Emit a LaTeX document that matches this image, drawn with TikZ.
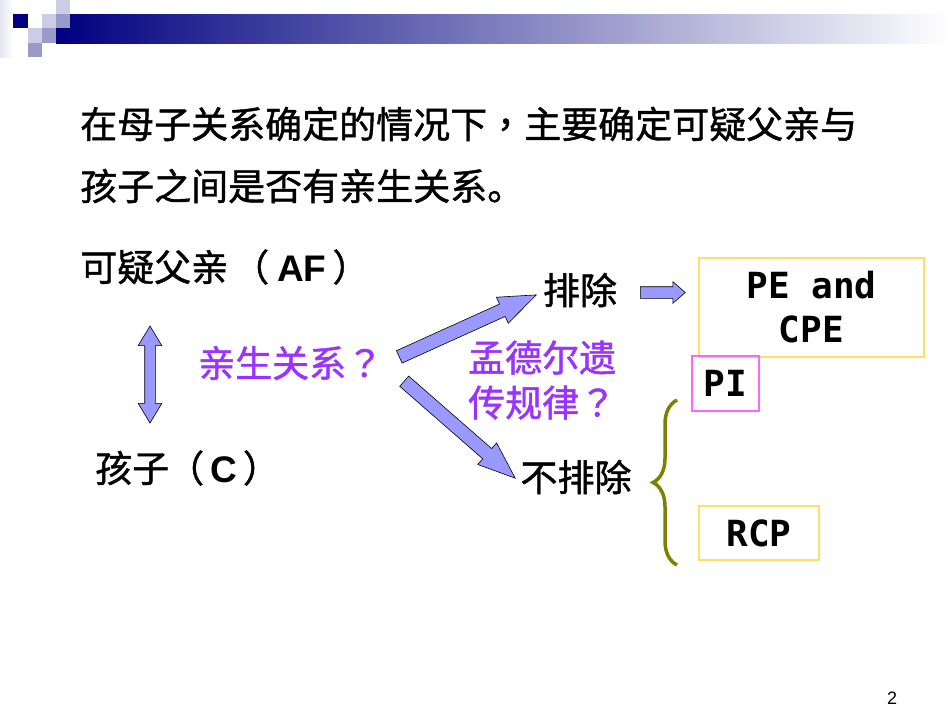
\documentclass[tikz,border=0pt]{standalone}
\usepackage{fontspec}
\setmainfont{Liberation Sans}
\newfontfamily\cjk[FakeBold=1.2]{Noto Sans CJK SC}
\newfontfamily\cjkp[FakeBold=1.2]{Noto Sans CJK TC}
\newfontfamily\mono{DejaVu Sans Mono}
\usetikzlibrary{positioning, calc, shapes.arrows, decorations.pathreplacing}

\definecolor{navy}{HTML}{000080}
\definecolor{lavlight}{HTML}{CCCCE6}
\definecolor{lavmid}{HTML}{9999CC}
\definecolor{arrowblue}{HTML}{9999FF}
\definecolor{kinpurple}{HTML}{9933FF}
\definecolor{boxyellow}{HTML}{FFE066}
\definecolor{pipink}{HTML}{FF66FF}
\definecolor{braceolive}{HTML}{808000}

% 粗箭头: 从 #2 指向 #3
\newcommand{\fatarrow}[3][]{%
  \path let \p1=($(#3)-(#2)$), \n1={atan2(\y1,\x1)}, \n2={veclen(\x1,\y1)} in
    node[blockarrow, #1, rotate=\n1, minimum height=\n2, anchor=tail] at (#2) {};%
}

\begin{document}
\begin{tikzpicture}[
                x=1pt, y=-1pt,
                txt/.style={font=\cjk\fontsize{37}{45}\selectfont, inner sep=0pt},
                ask/.style={txt, text=kinpurple},
                res/.style={draw=boxyellow, line width=1.2pt, inner sep=0pt, font=\mono\bfseries\fontsize{36}{44}\selectfont, align=center},
                blockarrow/.style={single arrow, draw=black, line width=0.6pt, fill=arrowblue, inner xsep=0pt, inner ysep=6.5pt, single arrow head extend=7.5pt, single arrow tip angle=42},
                smallarrow/.style={inner ysep=5.5pt, single arrow head extend=5pt, single arrow tip angle=82},
                updown/.style={double arrow, draw=black, line width=0.6pt, fill=arrowblue, inner xsep=0pt, inner ysep=5pt, double arrow head extend=6.5pt, double arrow tip angle=62, rotate=90}
            ]
                \useasboundingbox (0,0) rectangle (950,713);

                % 页眉
                \shade[left color=lavlight!50, right color=white] (0,0) rectangle (13,57);
                \shade[left color=navy, right color=white] (56,14) rectangle (950,43);
                \fill[lavlight] (56,0) rectangle (70,14);
                \fill[navy] (13,14) rectangle (28,28);
                \fill[lavlight] (42,14) rectangle (56,28);
                \fill[lavmid] (56,14) rectangle (70,28);
                \fill[lavlight] (28,28) rectangle (42,43);
                \fill[lavmid] (42,28) rectangle (56,43);
                \fill[lavmid] (28,43) rectangle (42,57);

                % 定义节点
                \node[txt, anchor=west] (title1) at (80,124) {在母子关系确定的情况下{\cjkp ，}主要确定可疑父亲与};
                \node[txt, anchor=west] (title2) at (80,186) {孩子之间是否有亲生关系。};
                \node[txt, anchor=west] (af) at (80,267) {可疑父亲\hspace{4pt}（\hspace{8pt}{\rmfamily\bfseries AF}\hspace{6pt}）};
                \node[txt, anchor=west] (child) at (95,468) {孩子\hspace{-2pt}（\hspace{6pt}{\rmfamily\bfseries C}\hspace{6pt}）};
                \node[ask, anchor=west] (kin) at (198,363) {亲生关系{\cjkp ？}};
                \node[txt] (excl) at (580,290) {排除};
                \node[txt] (notexcl) at (576,477) {不排除};
                \node[ask, anchor=west, align=left] (mendel) at (468,380) {孟德尔遗\\传规律{\cjkp ？}};

                % 结果框
                \node[res, minimum width=225pt, minimum height=99pt] (pecpe) at (811.5,307.5) {PE and\\CPE};
                \node[res, draw=pipink, minimum width=67pt, minimum height=55pt] (pi) at (725.5,383.5) {PI};
                \node[res, minimum width=120pt, minimum height=54pt] (rcp) at (759,533) {RCP};
                \node[font=\fontsize{18}{20}\selectfont, inner sep=0pt] (page) at (892,698) {2};

                % 箭头
                \node[updown, minimum height=97pt] (link) at (150,374.5) {};
                \coordinate (upT) at (399,357);
                \coordinate (upH) at (536,295);
                \coordinate (dnT) at (404,381);
                \coordinate (dnH) at (515,478);
                \coordinate (rtT) at (640,292.5);
                \coordinate (rtH) at (685,292.5);
                \fatarrow{upT}{upH}
                \fatarrow{dnT}{dnH}
                \fatarrow[smallarrow]{rtT}{rtH}

                % 大括号
                \draw[decorate, decoration={brace, amplitude=24pt}, draw=braceolive, line width=3.5pt] (677,565) -- (677,400);

            \end{tikzpicture}
\end{document}
